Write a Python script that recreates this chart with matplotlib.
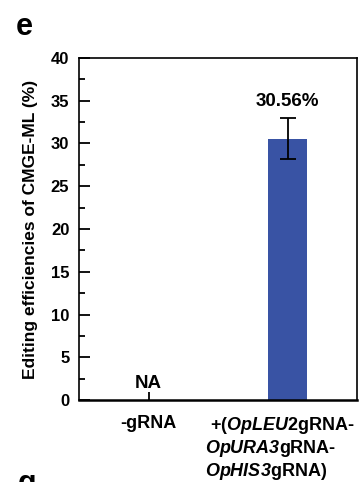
import matplotlib.pyplot as plt
import matplotlib.transforms as mtransforms
import numpy as np

plt.rcParams['font.family'] = ['Liberation Sans', 'DejaVu Sans']
plt.rcParams['font.weight'] = 'bold'
plt.rcParams['mathtext.fontset'] = 'custom'
# sf slot used for bold italic gene names (keeps digits italic too)
plt.rcParams['mathtext.sf'] = 'Liberation Sans:italic:bold'
plt.rcParams['mathtext.rm'] = 'Liberation Sans:bold'
plt.rcParams['mathtext.bf'] = 'Liberation Sans:bold'

groups = ['-gRNA',
          ' +($\\mathsf{OpLEU}$2gRNA-\n$\\mathsf{OpURA3}$gRNA-\n$\\mathsf{OpHIS3}$gRNA)']
values = [0, 30.56]
errors = [0, 2.4]
bar_labels = ['NA', '30.56%']

fig = plt.figure(figsize=(3.61, 4.82), dpi=100)
ax = fig.add_axes([0.219, 0.170, 0.770, 0.710])

x = np.arange(len(groups))
ax.bar(x[1:], values[1:], width=0.28, color='#3953a4', zorder=2)
ax.errorbar(x[1:], values[1:], yerr=errors[1:], fmt='none', ecolor='black',
            elinewidth=1.3, capsize=6, capthick=1.3, zorder=3)

# labels above bars
ax.text(x[0], values[0] + 1.0, bar_labels[0], ha='center', va='bottom',
        fontsize=13.5, fontweight='bold')
ax.text(x[1], values[1] + errors[1] + 1.0, bar_labels[1], ha='center',
        va='bottom', fontsize=13.5, fontweight='bold')

ax.set_xlim(-0.5, 1.5)
ax.set_ylim(0, 40)
ax.set_yticks(np.arange(0, 41, 5))
ax.set_yticks(np.arange(2.5, 40, 5), minor=True)
ax.set_xticks(x)
ax.set_xticklabels(groups, fontsize=13, fontweight='bold',
                   multialignment='left', linespacing=1.12)
ax.tick_params(axis='y', which='major', direction='in', length=8, width=1.3,
               labelsize=12, pad=7)
ax.tick_params(axis='y', which='minor', direction='in', length=4, width=1.3)
ax.tick_params(axis='x', direction='in', length=6, width=1.3, pad=11)
for lbl in ax.get_yticklabels():
    lbl.set_fontweight('bold')
# long label sits a bit left of its tick
shift = mtransforms.ScaledTranslation(-8 / 100, 0, fig.dpi_scale_trans)
lab = ax.get_xticklabels()[1]
lab.set_transform(lab.get_transform() + shift)
for s in ax.spines.values():
    s.set_linewidth(1.2)
ax.spines['bottom'].set_linewidth(1.8)

ax.set_ylabel('Editing efficiencies of CMGE-ML (%)', fontsize=12.5,
              fontweight='bold', labelpad=9)

fig.text(0.045, 0.975, 'e', fontsize=22, fontweight='bold', va='top')
fig.text(0.05, 0.028, 'g', fontsize=22, fontweight='bold', va='top')

fig.savefig('out.png', dpi=100)
